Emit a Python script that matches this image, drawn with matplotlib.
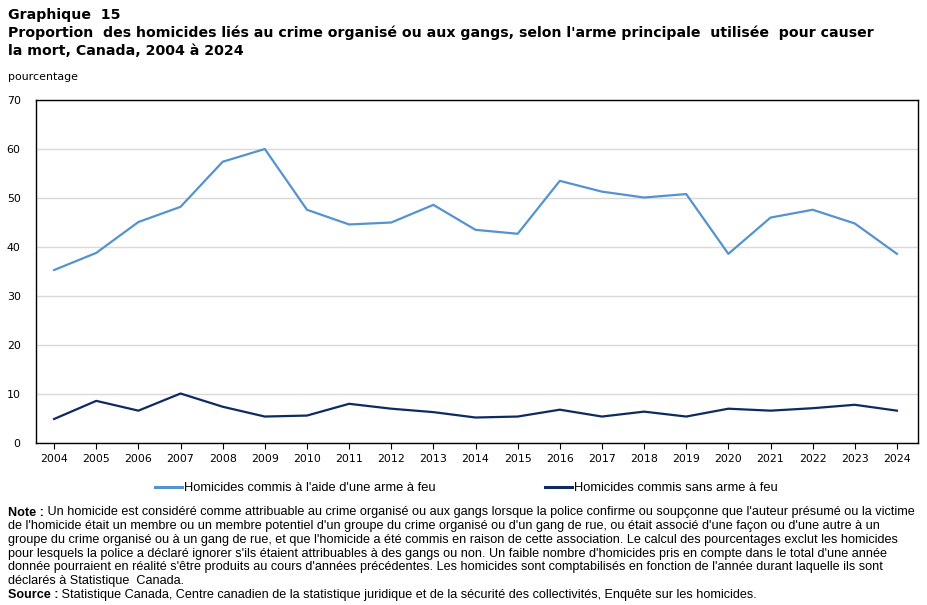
import matplotlib
matplotlib.use("Agg")
import matplotlib.pyplot as plt
from matplotlib.lines import Line2D

years = list(range(2004, 2025))
firearm = [35.3, 38.8, 45.1, 48.2, 57.4, 60.0, 47.6, 44.6, 45.0, 48.6, 43.5,
           42.7, 53.5, 51.3, 50.1, 50.8, 38.6, 46.0, 47.6, 44.8, 38.6]
no_firearm = [4.9, 8.6, 6.6, 10.1, 7.4, 5.4, 5.6, 8.0, 7.0, 6.3, 5.2,
              5.4, 6.8, 5.4, 6.4, 5.4, 7.0, 6.6, 7.1, 7.8, 6.6]
series_labels = ["Homicides commis à l'aide d'une arme à feu",
                 "Homicides commis sans arme à feu"]
yticks = [0, 10, 20, 30, 40, 50, 60, 70]

c_fire = "#5593CF"
c_nofire = "#0E2A62"

W, H = 927, 605
fig = plt.figure(figsize=(W / 100, H / 100), dpi=100)
ax = fig.add_axes([36 / W, 1 - 443 / H, (918 - 36) / W, (443 - 100) / H])

ax.plot(years, firearm, color=c_fire, lw=1.6, solid_joinstyle="round")
ax.plot(years, no_firearm, color=c_nofire, lw=1.6, solid_joinstyle="round")

ax.set_ylim(0, 70)
ax.set_xlim(2004 - 0.43, 2024 + 0.5)
ax.set_yticks(yticks)
ax.set_xticks(years)
ax.set_xticklabels([str(y) for y in years])
ax.grid(axis="y", color="#d9d9d9", lw=1)
ax.set_axisbelow(True)
for s in ax.spines.values():
    s.set_color("black")
    s.set_linewidth(1.0)
ax.tick_params(axis="y", length=0, pad=11, labelsize=7.9)
ax.tick_params(axis="x", length=4, width=0.8, pad=4, labelsize=7.9, direction="out")

# Titles
fig.text(8 / W, 1 - 8.5 / H,
         "Graphique  15\nProportion  des homicides liés au crime organisé ou aux gangs, selon l'arme principale  utilisée  pour causer\nla mort, Canada, 2004 à 2024",
         ha="left", va="top", fontsize=10.2, fontweight="bold", linespacing=1.3)
fig.text(8 / W, 1 - 77 / H, "pourcentage", ha="left", va="center", fontsize=7.9)

narrow = ["Liberation Sans", "DejaVu Sans"]

# Legend
for x0, lab, col in zip([155, 545], series_labels, [c_fire, c_nofire]):
    h = Line2D([], [], color=col, lw=2.2)
    fig.legend([h], [lab], loc="center left",
               bbox_to_anchor=(x0 / W, 1 - 488 / H), frameon=False,
               borderpad=0, borderaxespad=0, handlelength=2.1,
               handletextpad=0.15, prop={"family": narrow, "size": 9.3})

# Notes
note_lines = [
    ("Note :", " Un homicide est considéré comme attribuable au crime organisé ou aux gangs lorsque la police confirme ou soupçonne que l'auteur présumé ou la victime"),
    ("", "de l'homicide était un membre ou un membre potentiel d'un groupe du crime organisé ou d'un gang de rue, ou était associé d'une façon ou d'une autre à un"),
    ("", "groupe du crime organisé ou à un gang de rue, et que l'homicide a été commis en raison de cette association. Le calcul des pourcentages exclut les homicides"),
    ("", "pour lesquels la police a déclaré ignorer s'ils étaient attribuables à des gangs ou non. Un faible nombre d'homicides pris en compte dans le total d'une année"),
    ("", "donnée pourraient en réalité s'être produits au cours d'années précédentes. Les homicides sont comptabilisés en fonction de l'année durant laquelle ils sont"),
    ("", "déclarés à Statistique  Canada."),
    ("Source :", " Statistique Canada, Centre canadien de la statistique juridique et de la sécurité des collectivités, Enquête sur les homicides."),
]
y0 = 512.5
dy = 13.7
fs_note = 9.1
for i, (b, rest) in enumerate(note_lines):
    y = 1 - (y0 + i * dy) / H
    if b:
        t = fig.text(8 / W, y, b, ha="left", va="center", fontsize=fs_note,
                     family=narrow, fontweight="bold")
        ax.annotate(rest, xy=(1, 0.5), xycoords=t, ha="left", va="center",
                    fontsize=fs_note, family=narrow, annotation_clip=False)
    else:
        fig.text(8 / W, y, rest, ha="left", va="center", fontsize=fs_note, family=narrow)

fig.savefig("out.png", dpi=100)
